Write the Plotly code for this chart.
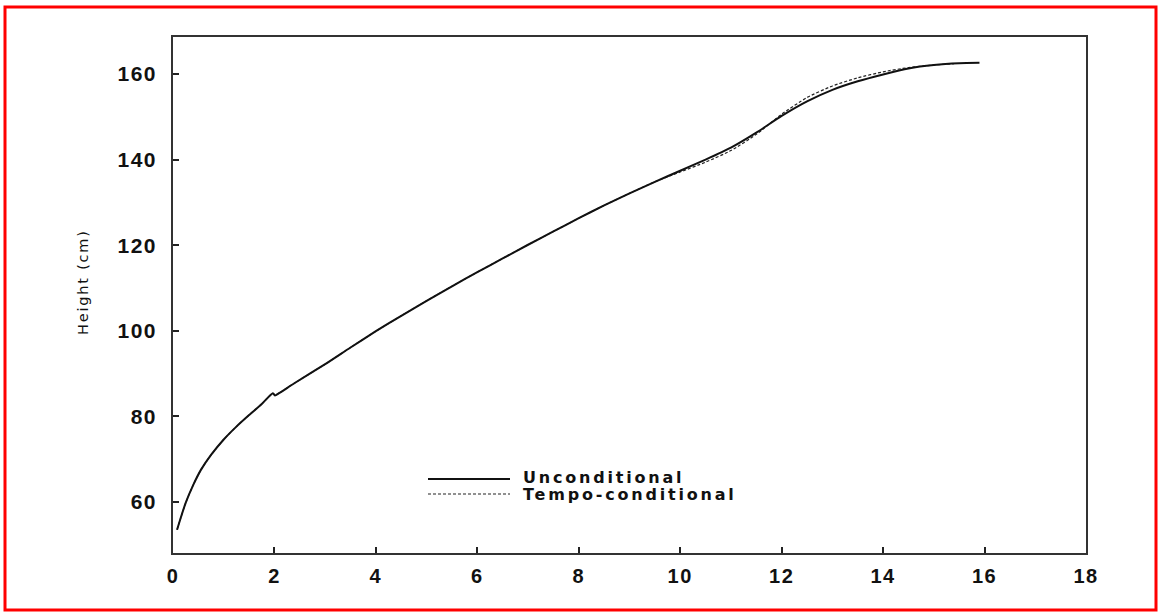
import plotly.graph_objects as go

# ---- data ----
age_uncond = [0.08, 0.15, 0.25, 0.4, 0.55, 0.75, 1.0, 1.25, 1.5, 1.75, 1.97, 2.01, 2.1,
              2.4, 3.0, 3.5, 4.0, 4.5, 5.0, 5.5, 6.0, 6.5, 7.0, 7.5, 8.0, 8.5, 9.0, 9.5,
              10.0, 10.5, 11.0, 11.5, 12.0, 12.5, 13.0, 13.5, 14.0, 14.5, 15.0, 15.5, 15.9]
height_uncond = [53.5, 56.2, 59.8, 64.0, 67.5, 71.0, 74.6, 77.6, 80.3, 82.9, 85.4, 84.9, 85.5,
                 87.8, 92.2, 96.1, 99.9, 103.5, 107.0, 110.4, 113.7, 116.9, 120.1, 123.2, 126.3,
                 129.3, 132.1, 134.8, 137.4, 140.0, 142.8, 146.3, 150.2, 153.6, 156.3, 158.3,
                 159.9, 161.3, 162.1, 162.5, 162.6]

age_tempo = [0.08, 0.15, 0.25, 0.4, 0.55, 0.75, 1.0, 1.25, 1.5, 1.75, 1.97, 2.01, 2.1,
             2.4, 3.0, 3.5, 4.0, 4.5, 5.0, 5.5, 6.0, 6.5, 7.0, 7.5, 8.0, 8.5, 9.0, 9.5,
             10.0, 10.5, 11.0, 11.5, 12.0, 12.5, 13.0, 13.5, 14.0, 14.5, 15.0, 15.4]
height_tempo = [53.5, 56.2, 59.8, 64.0, 67.5, 71.0, 74.6, 77.6, 80.3, 82.9, 85.4, 84.9, 85.5,
                87.8, 92.2, 96.1, 99.9, 103.5, 107.0, 110.4, 113.7, 116.9, 120.1, 123.2, 126.3,
                129.3, 132.1, 134.8, 137.1, 139.4, 142.1, 145.9, 150.6, 154.5, 157.2, 159.1,
                160.5, 161.5, 162.1, 162.4]

x_ticks = [0, 2, 4, 6, 8, 10, 12, 14, 16, 18]
y_ticks = [60, 80, 100, 120, 140, 160]
series_names = ["Unconditional", "Tempo-conditional"]
y_title = "Height (cm)"

FONT = "Liberation Sans, Arial, Helvetica, sans-serif"
WIDE = "DejaVu Sans, Liberation Sans, Arial, sans-serif"


def spaced(text, px):
    return f"<span style='letter-spacing:{px}px'>{text}</span>"


fig = go.Figure()
fig.add_trace(go.Scatter(x=age_tempo, y=height_tempo, mode="lines", name=series_names[1],
                         line=dict(color="#222222", width=1.2, dash="3px,2px",
                                   shape="spline", smoothing=0.6)))
fig.add_trace(go.Scatter(x=age_uncond, y=height_uncond, mode="lines", name=series_names[0],
                         line=dict(color="#111111", width=2, shape="spline", smoothing=0.6)))

axis_common = dict(showgrid=False, zeroline=False, showline=True, linecolor="#333333",
                   linewidth=1.5, mirror=True, ticks="inside", ticklen=6, tickwidth=1.5,
                   tickcolor="#222222")

fig.update_xaxes(range=[0, 18], tickmode="array", tickvals=x_ticks,
                 ticktext=[spaced(str(t), 1.5) for t in x_ticks],
                 tickfont=dict(family=FONT, size=20, color="#111111", weight="bold"),
                 ticklabelstandoff=4, **axis_common)
fig.update_yaxes(range=[48.08, 168.64], tickmode="array", tickvals=y_ticks,
                 ticktext=[spaced(str(t), 1.5) for t in y_ticks],
                 tickfont=dict(family=FONT, size=21, color="#111111", weight="bold"),
                 ticklabelstandoff=10, **axis_common)

L, R, T, B = 173, 72, 37, 59
W, H = 1158, 612
pw, ph = W - L - R, H - T - B


def px(xp):
    return (xp - L) / pw


def py(yp):
    return (H - B - yp) / ph


shapes = [
    # red frame around the picture
    dict(type="rect", xref="paper", yref="paper", x0=px(5), x1=px(1156), y0=py(610), y1=py(7),
         line=dict(color="#ff0000", width=3), fillcolor="rgba(0,0,0,0)", layer="above"),
    # legend samples
    dict(type="line", xref="paper", yref="paper", x0=px(428), x1=px(510), y0=py(479), y1=py(479),
         line=dict(color="#111111", width=1.8)),
    dict(type="line", xref="paper", yref="paper", x0=px(428), x1=px(510), y0=py(494), y1=py(494),
         line=dict(color="#222222", width=1.2, dash="3px,2px")),
]

annotations = [
    dict(xref="paper", yref="paper", x=px(521), y=py(477), xanchor="left", yanchor="middle",
         text=spaced(series_names[0], 2.8), showarrow=False,
         font=dict(family=WIDE, size=16, color="#111111", weight="bold")),
    dict(xref="paper", yref="paper", x=px(521), y=py(494), xanchor="left", yanchor="middle",
         text=spaced(series_names[1], 2.8), showarrow=False,
         font=dict(family=WIDE, size=16, color="#111111", weight="bold")),
    dict(xref="paper", yref="paper", x=px(83), y=py(282), xanchor="center", yanchor="middle",
         text=spaced(y_title, 1.8), textangle=-90, showarrow=False,
         font=dict(family=WIDE, size=14.5, color="#111111")),
]

fig.update_layout(width=W, height=H, margin=dict(l=L, r=R, t=T, b=B, autoexpand=False),
                  paper_bgcolor="white", plot_bgcolor="white", showlegend=False,
                  shapes=shapes, annotations=annotations)

fig.write_html("out.html")
